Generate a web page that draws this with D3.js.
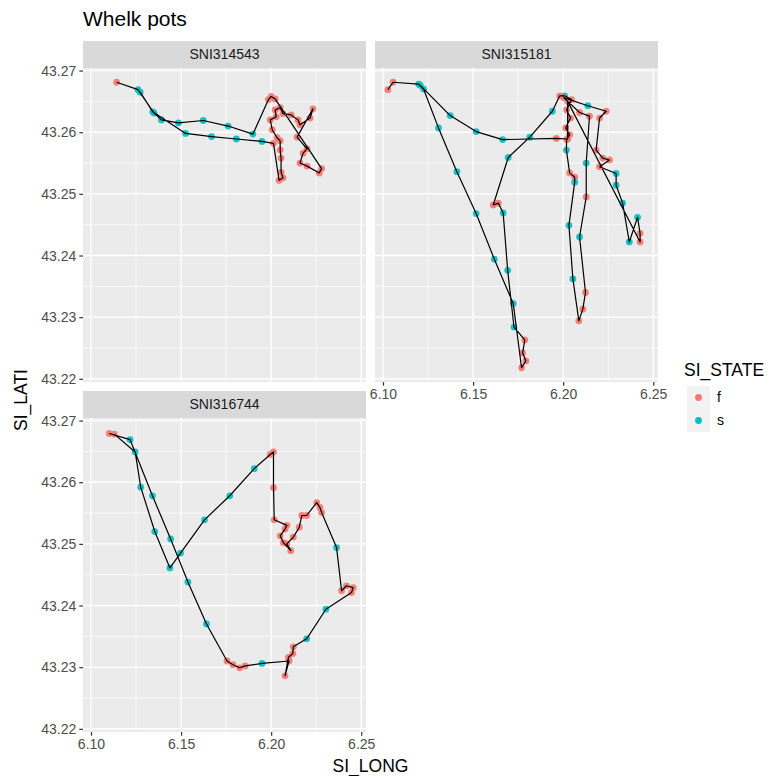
<!DOCTYPE html>
<html>
<head>
<meta charset="utf-8">
<script src="https://cdn.jsdelivr.net/npm/d3@7"></script>
<style>
  body { margin: 0; background: #fff; }
  text { font-family: "Liberation Sans", Arial, sans-serif; }
</style>
</head>
<body>
<svg id="chart" width="773" height="776"></svg>
<script>
// Facet labels and legend levels
const vessels = ["SNI314543", "SNI315181", "SNI316744"];
const stateLevels = ["f", "s"];
const stateColors = ["#F8766D", "#00BFC4"];
const xTickValues = [6.10, 6.15, 6.20, 6.25];
const yTickValues = [43.22, 43.23, 43.24, 43.25, 43.26, 43.27];

// Vessel SNI314543: positions in time order
const lon1 = [6.1142, 6.1261, 6.1350, 6.1391, 6.1485, 6.1623, 6.1761, 6.1899, 6.1985, 6.2000,
  6.2022, 6.2280, 6.2267, 6.2199, 6.2160, 6.2177, 6.2199, 6.2144, 6.2232, 6.2216,
  6.2160, 6.2149, 6.2111, 6.2066, 6.2050, 6.2022, 6.2028, 6.1995, 6.2006, 6.2033,
  6.2050, 6.2050, 6.2055, 6.2055, 6.2066, 6.2044, 6.2013, 6.1949, 6.1807, 6.1669,
  6.1525, 6.1343, 6.1273];
const lat1 = [43.2681, 43.2669, 43.2631, 43.2620, 43.2615, 43.2619, 43.2610, 43.2597, 43.2653, 43.2658,
  43.2654, 43.2541, 43.2534, 43.2545, 43.2550, 43.2566, 43.2573, 43.2592, 43.2638, 43.2623,
  43.2612, 43.2620, 43.2628, 43.2630, 43.2640, 43.2636, 43.2625, 43.2620, 43.2604, 43.2591,
  43.2586, 43.2571, 43.2558, 43.2535, 43.2526, 43.2522, 43.2582, 43.2585, 43.2589, 43.2593,
  43.2598, 43.2633, 43.2665];
const state1 = ["f","s","s","s","s","s","s","s","f","f",
  "f","f","f","f","f","f","f","f","f","f",
  "f","f","f","f","f","f","f","f","f","f",
  "f","f","f","f","f","f","f","s","s","s",
  "s","s","s"];

// Vessel SNI315181
const lon2 = [6.1027, 6.1056, 6.1198, 6.1225, 6.1308, 6.1410, 6.1517, 6.1618, 6.1723, 6.1769,
  6.1793, 6.1775, 6.1787, 6.1727, 6.1692, 6.1667, 6.1640, 6.1612, 6.1695, 6.1815,
  6.1940, 6.1981, 6.2008, 6.2047, 6.2019, 6.2041, 6.2014, 6.2036, 6.2019, 6.2018,
  6.2036, 6.2064, 6.2064, 6.2032, 6.2054, 6.2087, 6.2109, 6.2124, 6.2091, 6.2128,
  6.2128, 6.2146, 6.2091, 6.2003, 6.2137, 6.2239, 6.2202, 6.2183, 6.2220, 6.2257,
  6.2202, 6.2294, 6.2294, 6.2330, 6.2367, 6.2413, 6.2427, 6.2427, 6.2025, 6.2025,
  6.1962, 6.1664, 6.1517, 6.1373, 6.1207];
const lat2 = [43.2669, 43.2681, 43.2678, 43.2670, 43.2607, 43.2536, 43.2468, 43.2394, 43.2322, 43.2218,
  43.2229, 43.2242, 43.2263, 43.2284, 43.2376, 43.2469, 43.2485, 43.2482, 43.2559, 43.2592,
  43.2634, 43.2659, 43.2659, 43.2653, 43.2636, 43.2623, 43.2607, 43.2596, 43.2588, 43.2571,
  43.2534, 43.2527, 43.2519, 43.2449, 43.2362, 43.2294, 43.2313, 43.2340, 43.2430, 43.2495,
  43.2550, 43.2626, 43.2632, 43.2656, 43.2643, 43.2634, 43.2623, 43.2571, 43.2558, 43.2555,
  43.2544, 43.2533, 43.2514, 43.2485, 43.2422, 43.2462, 43.2436, 43.2422, 43.2650, 43.2589,
  43.2590, 43.2588, 43.2601, 43.2627, 43.2676];
const state2 = ["f","f","s","s","s","s","s","s","s","f",
  "f","f","f","s","s","s","f","f","s","s",
  "s","f","s","f","f","f","f","f","f","s",
  "f","f","s","s","s","f","f","f","s","f",
  "s","f","f","f","s","f","f","f","f","f",
  "f","s","s","s","s","s","f","f","f","f",
  "f","s","s","s","s"];

// Vessel SNI316744
const lon3 = [6.1129, 6.1245, 6.1276, 6.1354, 6.1438, 6.1497, 6.1630, 6.1770, 6.1906, 6.1995,
  6.2013, 6.2013, 6.2017, 6.2087, 6.2077, 6.2050, 6.2068, 6.2109, 6.2087, 6.2123,
  6.2156, 6.2170, 6.2197, 6.2253, 6.2271, 6.2280, 6.2363, 6.2391, 6.2418, 6.2455,
  6.2446, 6.2304, 6.2197, 6.2123, 6.2120, 6.2096, 6.2077, 6.2099, 6.1949, 6.1856,
  6.1825, 6.1788, 6.1755, 6.1641, 6.1538, 6.1442, 6.1341, 6.1217, 6.1101];
const lat3 = [43.2678, 43.2649, 43.2592, 43.2520, 43.2461, 43.2485, 43.2539, 43.2578, 43.2622, 43.2645,
  43.2649, 43.2591, 43.2539, 43.2530, 43.2524, 43.2513, 43.2502, 43.2489, 43.2500, 43.2511,
  43.2527, 43.2546, 43.2546, 43.2567, 43.2559, 43.2551, 43.2494, 43.2424, 43.2432, 43.2429,
  43.2421, 43.2394, 43.2346, 43.2333, 43.2322, 43.2316, 43.2286, 43.2310, 43.2306, 43.2302,
  43.2299, 43.2304, 43.2310, 43.2370, 43.2438, 43.2508, 43.2578, 43.2669, 43.2679];
const state3 = ["f","s","s","s","s","s","s","s","s","f",
  "f","f","f","f","f","f","f","f","f","f",
  "f","f","f","f","f","f","s","f","f","f",
  "f","s","s","f","f","f","f","f","s","f",
  "f","f","f","s","s","s","s","s","f"];

const tracks = [
  { id: vessels[0], lon: lon1, lat: lat1, state: state1 },
  { id: vessels[1], lon: lon2, lat: lat2, state: state2 },
  { id: vessels[2], lon: lon3, lat: lat3, state: state3 }
].map(t => ({ id: t.id, pts: t.lon.map((x, i) => ({ x, y: t.lat[i], s: t.state[i] })) }));

// Layout of the facet grid
const colX = [83, 375];
const rowY = [68, 418];
const pw = 283, ph = 314, stripH = 27;

const allPts = tracks.flatMap(t => t.pts);
function expanded(ext) { const d = (ext[1] - ext[0]) * 0.05; return [ext[0] - d, ext[1] + d]; }
const x = d3.scaleLinear().domain(expanded(d3.extent(allPts, d => d.x))).range([0, pw]);
const y = d3.scaleLinear().domain(expanded(d3.extent(allPts, d => d.y))).range([ph, 0]);
const color = d3.scaleOrdinal().domain(stateLevels).range(stateColors);

const svg = d3.select("#chart");
svg.append("rect").attr("width", 773).attr("height", 776).attr("fill", "#fff");

const xMinor = [6.075, 6.125, 6.175, 6.225, 6.275].filter(v => v >= x.domain()[0] && v <= x.domain()[1]);
const yMinor = [43.215, 43.225, 43.235, 43.245, 43.255, 43.265, 43.275].filter(v => v >= y.domain()[0] && v <= y.domain()[1]);

tracks.forEach((t, i) => {
  const col = i % 2, row = Math.floor(i / 2);
  const g = svg.append("g").attr("transform", `translate(${colX[col]},${rowY[row]})`);

  // strip
  g.append("rect").attr("x", 0).attr("y", -stripH).attr("width", pw).attr("height", stripH).attr("fill", "#D9D9D9");
  g.append("text").attr("x", pw / 2).attr("y", -stripH / 2).attr("dy", "0.35em")
    .attr("text-anchor", "middle").attr("font-size", 14).attr("fill", "#1A1A1A").text(t.id);

  // panel background and grid
  g.append("rect").attr("width", pw).attr("height", ph).attr("fill", "#EBEBEB");
  g.selectAll(".xm").data(xMinor).join("line").attr("x1", d => x(d)).attr("x2", d => x(d))
    .attr("y1", 0).attr("y2", ph).attr("stroke", "#fff").attr("stroke-width", 0.7);
  g.selectAll(".ym").data(yMinor).join("line").attr("y1", d => y(d)).attr("y2", d => y(d))
    .attr("x1", 0).attr("x2", pw).attr("stroke", "#fff").attr("stroke-width", 0.7);
  g.selectAll(".xM").data(xTickValues).join("line").attr("x1", d => x(d)).attr("x2", d => x(d))
    .attr("y1", 0).attr("y2", ph).attr("stroke", "#fff").attr("stroke-width", 1.4);
  g.selectAll(".yM").data(yTickValues).join("line").attr("y1", d => y(d)).attr("y2", d => y(d))
    .attr("x1", 0).attr("x2", pw).attr("stroke", "#fff").attr("stroke-width", 1.4);

  // points, then the track drawn over them
  g.selectAll(".pt").data(t.pts).join("circle")
    .attr("cx", d => x(d.x)).attr("cy", d => y(d.y)).attr("r", 3.4)
    .attr("fill", d => color(d.s)).attr("opacity", 0.9);
  g.append("path").datum(t.pts)
    .attr("d", d3.line().x(d => x(d.x)).y(d => y(d.y)))
    .attr("fill", "none").attr("stroke", "#000").attr("stroke-width", 1.2).attr("stroke-linejoin", "round");

  // axes
  const styleAxis = sel => {
    sel.select(".domain").remove();
    sel.selectAll(".tick line").attr("stroke", "#333333").attr("stroke-width", 1.2);
    sel.selectAll(".tick text").attr("fill", "#4D4D4D").attr("font-size", 14)
      .attr("font-family", "\"Liberation Sans\", Arial, sans-serif");
  };
  if (col === 0) {
    g.append("g").call(d3.axisLeft(y).tickValues(yTickValues).tickSize(3.7).tickPadding(3)
      .tickFormat(d3.format(".2f"))).call(styleAxis);
  }
  if (i === 1 || i === 2) {
    g.append("g").attr("transform", `translate(0,${ph})`)
      .call(d3.axisBottom(x).tickValues(xTickValues).tickSize(3.7).tickPadding(3)
      .tickFormat(d3.format(".2f"))).call(styleAxis);
  }
});

// titles
svg.append("text").attr("x", 83).attr("y", 26).attr("font-size", 21).attr("fill", "#000").text("Whelk pots");
svg.append("text").attr("x", (colX[0] + colX[1] + pw) / 2).attr("y", 772).attr("text-anchor", "middle")
  .attr("font-size", 17.5).attr("fill", "#000").text("SI_LONG");
svg.append("text").attr("transform", `translate(27,${(rowY[0] + rowY[1] + ph) / 2}) rotate(-90)`)
  .attr("text-anchor", "middle").attr("font-size", 17.5).attr("fill", "#000").text("SI_LATI");

// legend
const lg = svg.append("g").attr("transform", "translate(684,0)");
lg.append("text").attr("x", 0).attr("y", 376).attr("font-size", 17.5).attr("fill", "#000").text("SI_STATE");
const keys = lg.selectAll(".key").data(stateLevels).join("g")
  .attr("transform", (d, i) => `translate(3,${386 + i * 23})`);
keys.append("rect").attr("width", 23).attr("height", 23).attr("fill", "#F2F2F2");
keys.append("circle").attr("cx", 11.5).attr("cy", 11.5).attr("r", 3.4).attr("fill", d => color(d));
keys.append("text").attr("x", 30).attr("y", 11.5).attr("dy", "0.35em").attr("font-size", 14)
  .attr("fill", "#000").text(d => d);
</script>
</body>
</html>
